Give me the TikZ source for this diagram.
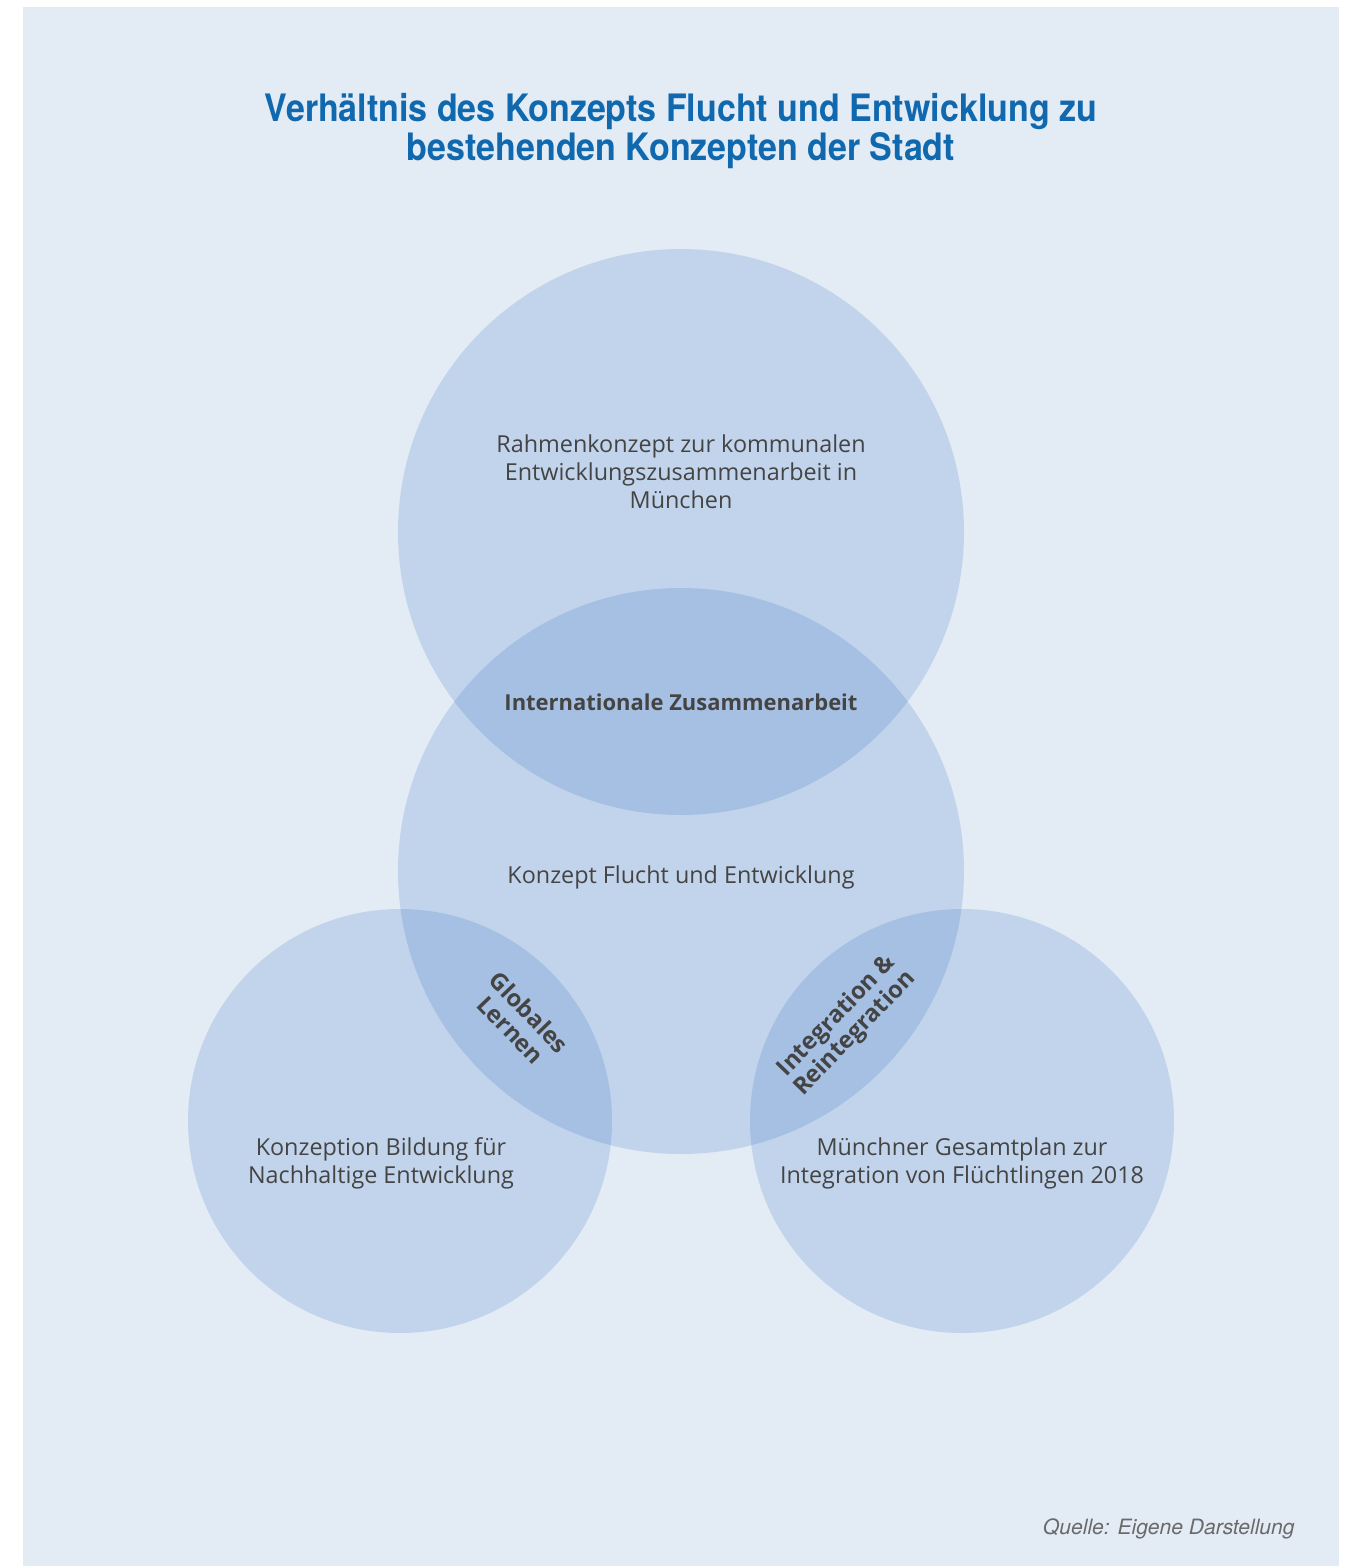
\documentclass[tikz,border=0pt]{standalone}
\usepackage{fontspec}
\setmainfont{Open Sans}
\newfontfamily\titlefont[FakeStretch=0.9]{TeX Gyre Heros}
\newfontfamily\notefont{TeX Gyre Heros}
\usepackage{xcolor}
\definecolor{pagebg}{HTML}{E3EBF5}
\definecolor{ringfill}{HTML}{DBE7F6}
\definecolor{titleblue}{HTML}{1068AE}
\definecolor{textgrey}{HTML}{444444}
\definecolor{notegrey}{HTML}{6A6A6A}

\begin{document}
\begin{tikzpicture}[x=0.02cm,y=-0.02cm]

\tikzset{bubble/.style = {shape=circle,fill=ringfill,blend mode=multiply,inner sep=0pt}}
\tikzset{label/.style = {text=textgrey,align=center,font=\fontsize{13.3}{15.9}\selectfont}}
\tikzset{overlap/.style = {label,font=\bfseries\fontsize{12.5}{14.5}\selectfont}}
\tikzset{tilted/.style = {label,font=\bfseries\fontsize{13.5}{14.5}\selectfont}}

\useasboundingbox (0,0) rectangle (1350,1566);
\fill[pagebg] (23,7) rectangle (1339,1566);

\node[text=titleblue,align=center,font=\titlefont\bfseries\fontsize{21.5}{22}\selectfont] (title) at (681,131)
  {Verhältnis des Konzepts Flucht und Entwicklung zu\\bestehenden Konzepten der Stadt};

%circles
\node[bubble,minimum size=566*0.02cm] (rahmen) at (681,532) {};
\node[bubble,minimum size=566*0.02cm] (flucht) at (681,871) {};
\node[bubble,minimum size=424*0.02cm] (bildung) at (400,1121) {};
\node[bubble,minimum size=424*0.02cm] (gesamt) at (962,1121) {};

%texts
\node[label] (rahmentext) at (681,472) {Rahmenkonzept zur kommunalen\\Entwicklungszusammenarbeit in\\München};
\node[label] (fluchttext) at (681,877) {Konzept Flucht und Entwicklung};
\node[label] (bildungtext) at (381,1163) {Konzeption Bildung für\\Nachhaltige Entwicklung};
\node[label] (gesamttext) at (962,1163) {Münchner Gesamtplan zur\\Integration von Flüchtlingen 2018};
\node[overlap] (international) at (681,702) {Internationale Zusammenarbeit};
\node[tilted,rotate=-46] (globales) at (520,1021) {Globales\\Lernen};
\node[tilted,rotate=46] (integration) at (846,1025) {Integration \&\\Reintegration};

\node[anchor=east,inner sep=0pt,text=notegrey,font=\notefont\itshape\fontsize{12}{14}\selectfont] (quelle) at (1295,1529) {Quelle: Eigene Darstellung};
\end{tikzpicture}
\end{document}
